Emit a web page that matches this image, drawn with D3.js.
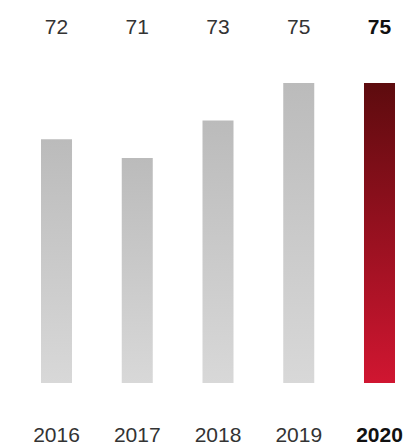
<!DOCTYPE html>
<html>
<head>
<meta charset="utf-8">
<script src="https://cdn.jsdelivr.net/npm/d3@7"></script>
<style>
  body { margin: 0; background: #fff; }
  svg { display: block; }
  text { font-family: "Liberation Sans", Arial, sans-serif; }
</style>
</head>
<body>
<div id="chart"></div>
<script>
const years = ["2016", "2017", "2018", "2019", "2020"];
const values = [72, 71, 73, 75, 75];
const highlightYear = "2020";

const width = 404, height = 444;

const svg = d3.select("#chart")
  .append("svg")
    .attr("width", width)
    .attr("height", height);

const x = d3.scaleBand()
  .domain(years)
  .range([41, 395])
  .paddingInner(0.616)
  .paddingOuter(0);

const y = d3.scaleLinear()
  .domain([59, 75])
  .range([383, 83]);

// gradients
const defs = svg.append("defs");
const grey = defs.append("linearGradient")
  .attr("id", "grey").attr("x1", 0).attr("y1", 0).attr("x2", 0).attr("y2", 1);
grey.append("stop").attr("offset", "0%").attr("stop-color", "#bbbbbb");
grey.append("stop").attr("offset", "100%").attr("stop-color", "#d8d8d8");

const red = defs.append("linearGradient")
  .attr("id", "red").attr("x1", 0).attr("y1", 0).attr("x2", 0).attr("y2", 1);
red.append("stop").attr("offset", "0%").attr("stop-color", "#5d0b0e");
red.append("stop").attr("offset", "100%").attr("stop-color", "#d01631");

const data = years.map((yr, i) => ({ year: yr, value: values[i] }));

svg.append("g")
  .selectAll("rect")
  .data(data)
  .enter()
  .append("rect")
    .attr("x", d => x(d.year))
    .attr("y", d => y(d.value))
    .attr("width", x.bandwidth())
    .attr("height", d => y(59) - y(d.value))
    .style("fill", d => d.year === highlightYear ? "url(#red)" : "url(#grey)");

// value labels
svg.append("g")
  .selectAll("text")
  .data(data)
  .enter()
  .append("text")
    .attr("x", d => x(d.year) + x.bandwidth() / 2)
    .attr("y", 33.5)
    .attr("text-anchor", "middle")
    .style("font-size", "21px")
    .style("font-weight", d => d.year === highlightYear ? "bold" : "normal")
    .style("fill", d => d.year === highlightYear ? "#111" : "#333")
    .text(d => d.value);

// year labels
svg.append("g")
  .selectAll("text")
  .data(data)
  .enter()
  .append("text")
    .attr("x", d => x(d.year) + x.bandwidth() / 2)
    .attr("y", 441.5)
    .attr("text-anchor", "middle")
    .style("font-size", "21px")
    .style("font-weight", d => d.year === highlightYear ? "bold" : "normal")
    .style("fill", d => d.year === highlightYear ? "#111" : "#333")
    .text(d => d.year);
</script>
</body>
</html>
